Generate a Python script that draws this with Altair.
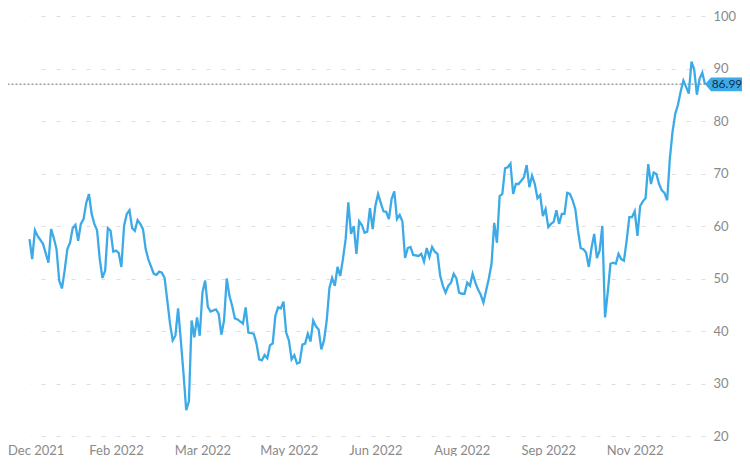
import altair as alt
import pandas as pd

# trading-day index (0 = first day of the series) and closing price
days = [0, 1, 2, 3, 5, 7, 8, 9, 10, 11, 12, 13, 14, 15, 16, 17, 18, 19, 20, 21,
        22, 23, 24, 25, 26, 27, 28, 29, 30, 31, 32, 33, 34, 35, 36, 37, 38, 39, 40, 41,
        42, 43, 44, 46, 47, 48, 49, 50, 51, 52, 53, 54, 55, 56, 57, 58, 59, 60, 61, 62,
        63, 64, 65, 66, 67, 69, 70, 71, 72, 73, 74, 75, 76, 77, 79, 80, 81, 83, 84, 85,
        86, 87, 88, 89, 90, 91, 92, 93, 94, 95, 96, 97, 98, 99, 100, 101, 102, 103, 104, 105,
        106, 107, 108, 109, 110, 111, 112, 113, 114, 115, 116, 117, 118, 119, 120, 121, 122, 123, 124, 125,
        126, 127, 128, 129, 130, 131, 132, 133, 134, 135, 136, 137, 138, 139, 140, 141, 142, 144, 145, 146,
        147, 148, 149, 150, 151, 152, 153, 154, 155, 156, 157, 158, 159, 160, 161, 162, 163, 164, 165, 166,
        167, 168, 169, 170, 171, 172, 173, 174, 175, 176, 177, 178, 179, 180, 181, 183, 184, 185, 186, 187,
        188, 189, 190, 191, 192, 193, 194, 195, 196, 197, 198, 199, 200, 201, 202, 203, 204, 205, 206, 207,
        208, 209, 210, 211, 212, 213, 214, 215, 216, 217, 218, 219, 220, 221, 222, 223, 224, 225, 226, 227,
        228, 229, 230, 231, 232, 233, 234, 235, 236, 237, 238, 239, 240, 241, 242, 243, 244, 245, 246, 247,
        248, 249, 250]

prices = [57.5, 53.7, 59.2, 58.1, 56.6, 53.0, 59.4, 57.7, 55.6, 49.6, 48.1, 51.5, 55.6, 56.8, 59.6, 60.2, 57.2, 60.4, 61.3, 64.4,
          66.1, 62.3, 60.4, 59.2, 53.7, 50.1, 51.5, 59.6, 59.1, 55.1, 55.3, 54.9, 52.2, 60.0, 62.3, 63.0, 59.6, 59.1, 61.1, 60.4,
          59.4, 55.6, 53.6, 50.9, 50.7, 51.3, 51.1, 50.1, 45.8, 41.4, 38.2, 39.1, 44.3, 38.2, 31.9, 24.9, 26.6, 42.0, 38.8, 42.6,
          39.1, 47.3, 49.6, 44.6, 43.7, 44.1, 43.3, 39.3, 42.0, 50.0, 46.7, 44.8, 42.4, 42.2, 41.4, 44.5, 39.7, 39.5, 37.6, 34.6,
          34.4, 35.4, 34.8, 37.3, 37.6, 42.9, 44.5, 44.3, 45.6, 39.7, 38.2, 34.6, 35.4, 33.8, 34.0, 37.4, 37.6, 39.5, 38.0, 42.0,
          40.9, 40.3, 36.5, 38.2, 42.0, 48.2, 50.1, 48.6, 52.2, 50.5, 53.7, 57.5, 64.5, 58.5, 60.0, 54.7, 60.9, 60.2, 58.7, 58.9,
          63.4, 59.4, 63.8, 66.1, 64.4, 62.8, 62.7, 61.3, 65.1, 66.6, 61.3, 62.1, 60.9, 53.9, 55.8, 56.0, 54.5, 54.3, 54.7, 53.2,
          55.8, 54.1, 56.0, 55.1, 54.7, 50.5, 48.6, 47.3, 48.6, 49.2, 50.9, 50.0, 47.3, 47.1, 47.1, 49.2, 48.6, 50.9, 49.2, 47.9,
          46.9, 45.4, 47.7, 50.0, 52.8, 60.6, 56.8, 65.7, 66.1, 71.0, 71.2, 71.9, 66.1, 68.0, 68.0, 69.3, 71.6, 67.4, 69.6, 68.0,
          65.3, 65.9, 61.9, 63.2, 59.8, 60.4, 60.8, 63.0, 60.4, 62.3, 62.3, 66.3, 66.1, 64.9, 63.2, 59.1, 55.8, 55.6, 54.9, 52.2,
          55.8, 58.5, 53.9, 55.3, 60.0, 42.6, 47.3, 52.8, 53.0, 52.8, 54.7, 53.7, 53.4, 57.2, 61.7, 61.7, 62.8, 58.1, 63.8, 64.7,
          65.3, 71.8, 68.0, 70.2, 69.9, 68.0, 66.8, 66.3, 64.9, 72.9, 78.0, 81.4, 83.1, 85.6, 87.7, 86.5, 85.2, 91.3, 89.8, 85.0,
          88.1, 89.2, 86.99]

tick_days = [0, 32, 64, 96, 128, 160, 192, 224]
tick_labels = ["Dec 2021", "Feb 2022", "Mar 2022", "May 2022", "Jun 2022",
               "Aug 2022", "Sep 2022", "Nov 2022"]
y_ticks = [20, 30, 40, 50, 60, 70, 80, 90, 100]
last_price = [86.99]

df = pd.DataFrame({"day": days, "price": prices})
last_df = pd.DataFrame({"price": last_price, "label": [f"{p:.2f}" for p in last_price]})

FONT = "Lato"
BLUE = "#3daae8"
label_js = "[" + ",".join(f"'{t}'" for t in tick_labels) + "]"

x_scale = alt.Scale(domain=[0, 250], nice=False, zero=False)
y_scale = alt.Scale(domain=[20, 100], nice=False, zero=False)

line = alt.Chart(df).mark_line(color=BLUE, strokeWidth=2.3).encode(
    x=alt.X("day:Q", scale=x_scale,
            axis=alt.Axis(values=tick_days, labelExpr=f"{label_js}[round(datum.value/32)]",
                          title=None, grid=False, domain=False, ticks=False,
                          labelFont=FONT, labelFontSize=13, labelColor="#8a8a8a",
                          labelPadding=8,
                          labelAlign=alt.expr("datum.value == 0 ? 'left' : 'center'"),
                          labelOffset=alt.expr("datum.value == 0 ? -22 : 0"))),
    y=alt.Y("price:Q", scale=y_scale,
            axis=alt.Axis(orient="right", values=y_ticks, title=None, domain=False, ticks=False,
                          grid=True, gridColor="#dedede", gridDash=[4, 11], gridWidth=1,
                          labelFont=FONT, labelFontSize=13, labelColor="#8a8a8a",
                          labelAlign="left", labelPadding=8)),
)

rule = alt.Chart(last_df).mark_rule(color="#9a9a9a", strokeDash=[2, 2], strokeWidth=1.4).encode(
    y=alt.Y("price:Q", scale=y_scale),
    x=alt.value(-22),
    x2=alt.value(677),
)

box_path = "M -1 0 L -0.68 -0.37 L 1 -0.37 L 1 0.37 L -0.68 0.37 Z"
box = alt.Chart(last_df).mark_point(shape=box_path, filled=True, color=BLUE, opacity=1,
                                    size=1369, strokeWidth=0).encode(
    y=alt.Y("price:Q", scale=y_scale),
    x=alt.value(694),
)

text = alt.Chart(last_df).mark_text(font=FONT, fontSize=12, color="#15314b", align="center",
                                    baseline="middle").encode(
    y=alt.Y("price:Q", scale=y_scale),
    x=alt.value(697.5),
    text="label:N",
)

chart = alt.layer(rule, line, box, text).properties(
    width=675.5, height=420,
    autosize=alt.AutoSizeParams(type="none"),
    padding={"left": 21.5, "top": 8, "right": 37, "bottom": 20},
).configure(background="white").configure_view(stroke=None)

chart.save("out.html", embed_options={"renderer": "svg", "actions": False})
